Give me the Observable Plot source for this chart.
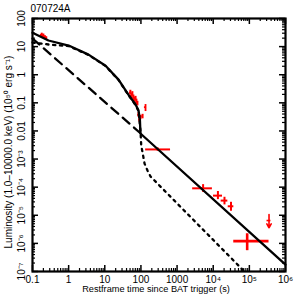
<!DOCTYPE html>
<html><head><meta charset="utf-8">
<script src="https://cdn.jsdelivr.net/npm/d3@7"></script>
<script src="https://cdn.jsdelivr.net/npm/@observablehq/plot@0.6"></script>
<style>body{margin:0;background:#fff}#chart{width:300px;height:300px}</style>
</head><body><div id="chart"></div>
<script>
const title = "070724A";
const xTitle = "Restframe time since BAT trigger (s)";
const yTitle = "Luminosity (1.0–10000.0 keV) (10⁵⁰ erg s⁻¹)";
const xTickValues = [0.1, 1, 10, 100, 1000, 1e4, 1e5, 1e6];
const xTickLabels = ["0.1", "1", "10", "100", "1000", "10⁴", "10⁵", "10⁶"];
const yTickValues = [100, 10, 1, 0.1, 0.01, 1e-3, 1e-4, 1e-5, 1e-6, 1e-7];
const yTickLabels = ["100", "10", "1", "0.1", "0.01", "10⁻³", "10⁻⁴", "10⁻⁵", "10⁻⁶", "10⁻⁷"];

// model curves
const solidT = [0.1, 0.277, 1.0, 3.55, 10.5, 24, 45, 71, 86, 94, 97, 1e6];
const solidL = [31, 16.5, 10.9, 5.2, 2.1, 0.67, 0.197, 0.087, 0.053, 0.023, 0.0081, 1.76e-7];
const dashT = [0.1, 100];
const dashL = [19.4, 0.008];
const dotT = [0.1, 0.277, 0.8, 1.0, 3.55, 10.5, 24, 45, 71, 86, 97, 102, 111, 126, 152, 184, 73000];
const dotL = [14, 11.9, 10.6, 10.5, 5.05, 2.04, 0.65, 0.19, 0.084, 0.05, 0.0103, 0.003, 0.0017, 6.9e-4, 3.9e-4, 2.4e-4, 1e-7];

// data points with error bars
const ptT   = [0.18, 0.2, 0.22, 0.24, 51, 55, 58, 62, 66, 71, 75, 80, 86, 91, 97, 111, 134, 290, 5250, 13500, 20500, 31000, 87000];
const ptTlo = [0.165, 0.185, 0.205, 0.225, 48, 52, 55, 59, 63, 68, 72, 77, 82, 87, 93, 106, 125, 135, 2700, 10200, 16600, 26000, 37000];
const ptThi = [0.195, 0.215, 0.235, 0.255, 54, 58, 61, 65, 69, 74, 78, 83, 90, 95, 101, 116, 143, 660, 9500, 18100, 25400, 37200, 350000];
const ptL   = [26, 24, 21, 19.5, 0.23, 0.18, 0.21, 0.155, 0.13, 0.14, 0.11, 0.094, 0.038, 0.0255, 0.030, 0.0325, 0.070, 2.2e-3, 9.1e-5, 5e-5, 3.33e-5, 2.09e-5, 1.2e-6];
const ptLlo = [22, 20.5, 18, 17, 0.19, 0.15, 0.17, 0.13, 0.11, 0.115, 0.09, 0.078, 0.031, 0.021, 0.025, 0.027, 0.049, 1.9e-3, 6.5e-5, 3.6e-5, 2.34e-5, 1.39e-5, 5.5e-7];
const ptLhi = [30, 28, 24.5, 22.5, 0.28, 0.22, 0.25, 0.19, 0.16, 0.17, 0.135, 0.113, 0.046, 0.031, 0.036, 0.039, 0.087, 2.5e-3, 1.23e-4, 7e-5, 4.37e-5, 2.9e-5, 2.2e-6];
const ptW   = [2, 2, 2, 2, 2, 2, 2, 2, 2, 2, 2, 2, 2, 2, 2, 2, 1.8, 2, 2, 2, 2, 2, 2.6];

// upper limit
const ulT = [3.5e5];
const ulTop = [1.06e-5];
const ulBottom = [3.6e-6];
const ulBar = [6.5e-6];

const solid = solidT.map((t, i) => ({t, L: solidL[i]}));
const dashed = dashT.map((t, i) => ({t, L: dashL[i]}));
const dotted = dotT.map((t, i) => ({t, L: dotL[i]}));
const pts = ptT.map((t, i) => ({t, t1: ptTlo[i], t2: ptThi[i], L: ptL[i], L1: ptLlo[i], L2: ptLhi[i], w: ptW[i]}));
const uls = ulT.map((t, i) => ({t, top: ulTop[i], bot: ulBottom[i], bar: ulBar[i]}));

const W = 300, H = 300, mL = 32, mR = 15, mT = 18, mB = 29;
const fw = W - mL - mR, fh = H - mT - mB;
const decadesX = d3.range(-1, 6).map(e => 10 ** e);
const decadesY = d3.range(-7, 2).map(e => 10 ** e);
const minorX = decadesX.flatMap(d => [2,3,4,5,6,7,8,9].map(k => k * d));
const minorY = decadesY.flatMap(d => [2,3,4,5,6,7,8,9].map(k => k * d));
const xt = xTickValues.map((v, i) => ({v, s: xTickLabels[i]}));
const yt = yTickValues.map((v, i) => ({v, s: yTickLabels[i]}));
const red = "#ff0000";
const major = 6, minor = 3;

const chart = Plot.plot({
  width: W, height: H,
  marginLeft: mL, marginRight: mR, marginTop: mT, marginBottom: mB,
  x: {type: "log", domain: [0.1, 1e6], axis: null},
  y: {type: "log", domain: [1e-7, 100], axis: null},
  style: {fontFamily: "'Liberation Sans', Arial, sans-serif", fontSize: "10px", background: "white", color: "black"},
  marks: [
    // error bars
    Plot.ruleY(pts, {y: "L", x1: "t1", x2: "t2", stroke: red, strokeWidth: d => d.w}),
    Plot.ruleX(pts, {x: "t", y1: "L1", y2: "L2", stroke: red, strokeWidth: d => d.w}),
    Plot.arrow(uls, {x1: "t", y1: "top", x2: "t", y2: "bot", stroke: red, strokeWidth: 1.6, headLength: 6, bend: 0}),
    Plot.ruleY(uls, {y: "bar", x1: d => d.t * 0.88, x2: d => d.t * 1.13, stroke: red, strokeWidth: 1.6}),
    // model curves
    Plot.line(dotted, {x: "t", y: "L", stroke: "black", strokeWidth: 2.3, strokeDasharray: "2.3,4.6"}),
    Plot.line(dashed, {x: "t", y: "L", stroke: "black", strokeWidth: 2.3, strokeDasharray: "9,6"}),
    Plot.line(solid, {x: "t", y: "L", stroke: "black", strokeWidth: 2.3}),
    // inward ticks
    Plot.ruleX(xTickValues, {x: d => d, insetTop: fh - major, stroke: "black", strokeWidth: 1.5}),
    Plot.ruleX(xTickValues, {x: d => d, insetBottom: fh - major, stroke: "black", strokeWidth: 1.5}),
    Plot.ruleX(minorX, {x: d => d, insetTop: fh - minor, stroke: "black", strokeWidth: 1.2}),
    Plot.ruleX(minorX, {x: d => d, insetBottom: fh - minor, stroke: "black", strokeWidth: 1.2}),
    Plot.ruleY(yTickValues, {y: d => d, insetRight: fw - major, stroke: "black", strokeWidth: 1.5}),
    Plot.ruleY(yTickValues, {y: d => d, insetLeft: fw - major, stroke: "black", strokeWidth: 1.5}),
    Plot.ruleY(minorY, {y: d => d, insetRight: fw - minor, stroke: "black", strokeWidth: 1.2}),
    Plot.ruleY(minorY, {y: d => d, insetLeft: fw - minor, stroke: "black", strokeWidth: 1.2}),
    Plot.frame({stroke: "black", strokeWidth: 2.2}),
    // tick labels
    Plot.text(xt, {x: "v", text: "s", frameAnchor: "bottom", dy: 8, lineAnchor: "middle", fill: "black"}),
    Plot.text(yt, {y: "v", text: "s", frameAnchor: "left", dx: -11, rotate: -90, textAnchor: "middle", lineAnchor: "middle", fill: "black"}),
    // titles
    Plot.text([xTitle], {text: d => d, frameAnchor: "bottom", dy: 18, dx: -3, lineAnchor: "middle", fill: "black", fontSize: 9.2}),
    Plot.text([yTitle], {text: d => d, frameAnchor: "left", dx: -24, dy: 7, rotate: -90, textAnchor: "middle", lineAnchor: "middle", fill: "black"}),
    Plot.text([title], {text: d => d, frameAnchor: "top-left", dx: -2, dy: -10, textAnchor: "start", lineAnchor: "middle", fill: "black"})
  ]
});
document.getElementById("chart").appendChild(chart);
</script>
</body></html>
